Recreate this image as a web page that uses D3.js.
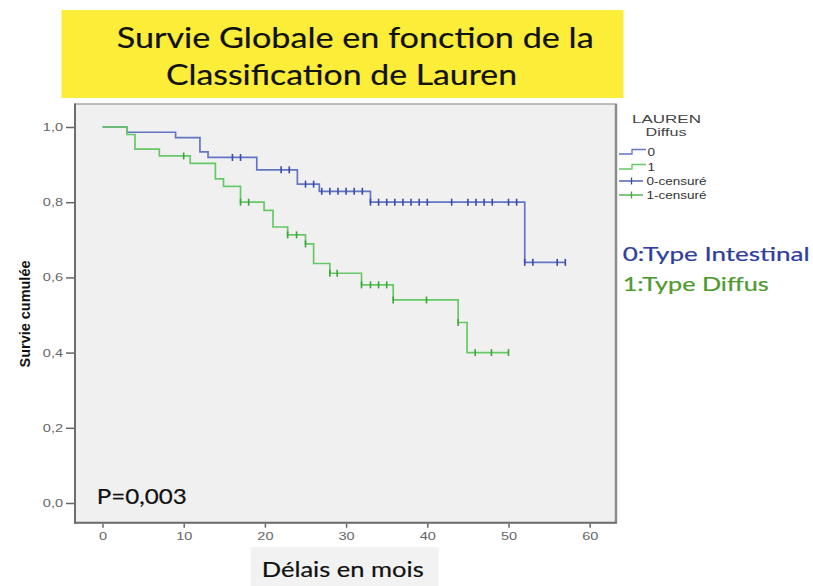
<!DOCTYPE html>
<html>
<head>
<meta charset="utf-8">
<script src="https://cdn.jsdelivr.net/npm/d3@7"></script>
<style>
  html, body { margin: 0; padding: 0; background: #fff; }
  svg { display: block; }
</style>
</head>
<body>
<svg id="chart" width="813" height="586"></svg>
<script>
// Kaplan–Meier survival by Lauren classification
const titleLines = ["Survie Globale en fonction de la", "Classification de Lauren"];

// Group 0 : type intestinal — event times (months) and survival after each event
const intTimes = [3, 9, 12, 13, 19, 24, 26.7, 33, 52];
const intSurv  = [0.986, 0.972, 0.934, 0.919, 0.886, 0.848, 0.829, 0.800, 0.640];
const intCensored = [16, 17, 22, 23, 25, 26, 27, 28, 29, 30, 31, 32, 33, 34, 35, 36, 37, 38, 39, 40,
                     43, 45, 46, 47, 48, 50, 51, 52, 53, 56, 57];

// Group 1 : type diffus
const difTimes = [3, 4, 7, 10.8, 13.9, 14.9, 17, 19.9, 21, 22.8, 25, 26, 28, 31.9, 35.8, 43.8, 44.9];
const difSurv  = [0.980, 0.941, 0.923, 0.903, 0.862, 0.842, 0.800, 0.778, 0.734, 0.713, 0.689, 0.637,
                  0.611, 0.580, 0.540, 0.480, 0.400];
const difCensored = [10, 17, 18, 22.8, 23.9, 25, 28, 28.9, 31.9, 33, 34, 35, 35.8, 39.9, 43.8, 45.9, 47.9, 50];

const xTicks = [0, 10, 20, 30, 40, 50, 60];
const yTicks = [0, 0.2, 0.4, 0.6, 0.8, 1.0];
const legendTitle = ["LAUREN", "Diffus"];
const legendItems = ["0", "1", "0-censuré", "1-censuré"];
const groupNotes = ["0:Type Intestinal", "1:Type Diffus"];
const pValueText = "P=0,003";
const xTitle = "Délais en mois";
const yTitle = "Survie cumulée";

const svg = d3.select("#chart");
const SANS = "'Liberation Sans', Arial, sans-serif";
const HUM = "Lato, 'Open Sans', sans-serif";

function stretch(sel, factor) {
  sel.each(function () {
    const w = this.getComputedTextLength();
    d3.select(this).attr("textLength", w * factor).attr("lengthAdjust", "spacingAndGlyphs");
  });
}
function fitTo(sel, width) {
  sel.attr("textLength", width).attr("lengthAdjust", "spacingAndGlyphs");
}
// slightly heavier strokes for the large captions
function heavy(sel, color) {
  sel.attr("stroke", color).attr("stroke-width", 0.2);
}

// ---- title banner
svg.append("rect").attr("x", 61.5).attr("y", 10).attr("width", 562).attr("height", 88)
  .attr("fill", "#fcee38");
const tl1 = svg.append("text").attr("x", 116.7).attr("y", 47.7)
  .attr("font-family", HUM).attr("font-size", 29).attr("fill", "#111").text(titleLines[0]);
fitTo(tl1, 477); heavy(tl1, "#111");
const tl2 = svg.append("text").attr("x", 166).attr("y", 85)
  .attr("font-family", HUM).attr("font-size", 29).attr("fill", "#111").text(titleLines[1]);
fitTo(tl2, 351); heavy(tl2, "#111");

// ---- plot frame
const plotLeft = 75, plotRight = 616, plotTop = 104, plotBottom = 522.7;
const x = d3.scaleLinear().domain([0, 60]).range([102.5, 589.7]);
const y = d3.scaleLinear().domain([0, 1]).range([503, 127]);

svg.append("rect").attr("x", plotLeft).attr("y", plotTop)
  .attr("width", plotRight - plotLeft).attr("height", plotBottom - plotTop)
  .attr("fill", "#f0f0f0").attr("stroke", "#a8a8a8").attr("stroke-width", 1.5);
svg.append("line").attr("x1", plotRight).attr("x2", plotRight).attr("y1", plotTop).attr("y2", plotBottom)
  .attr("stroke", "#8c8c8c").attr("stroke-width", 2.5);
svg.append("line").attr("x1", plotLeft).attr("x2", plotLeft).attr("y1", plotTop - 0.5).attr("y2", plotBottom + 1)
  .attr("stroke", "#6e6e6e").attr("stroke-width", 2);
svg.append("line").attr("x1", plotLeft - 1).attr("x2", plotRight + 1).attr("y1", plotBottom).attr("y2", plotBottom)
  .attr("stroke", "#6e6e6e").attr("stroke-width", 2);

// ---- axes
const yAxis = svg.append("g").attr("transform", `translate(${plotLeft - 1},0)`)
  .call(d3.axisLeft(y).tickValues(yTicks).tickSize(8).tickPadding(3)
    .tickFormat(d => d.toFixed(1).replace(".", ",")));
yAxis.select(".domain").remove();
yAxis.selectAll(".tick line").attr("stroke", "#666").attr("stroke-width", 1.5);
yAxis.selectAll(".tick text").attr("font-family", SANS).attr("font-size", 10)
  .attr("fill", "#666").attr("dy", "0.34em").call(stretch, 1.45);

const xAxis = svg.append("g").attr("transform", `translate(0,${plotBottom + 1})`)
  .call(d3.axisBottom(x).tickValues(xTicks).tickSize(4).tickPadding(5).tickFormat(d3.format("d")));
xAxis.select(".domain").remove();
xAxis.selectAll(".tick line").attr("stroke", "#666").attr("stroke-width", 1.5);
xAxis.selectAll(".tick text").attr("font-family", SANS).attr("font-size", 10)
  .attr("fill", "#666").call(stretch, 1.45);

// y title
const yt = svg.append("text").attr("transform", "translate(30,314) rotate(-90)")
  .attr("text-anchor", "middle").attr("font-family", "'Liberation Sans Narrow', " + SANS)
  .attr("font-weight", "bold").attr("font-size", 15).attr("fill", "#111").text(yTitle);
fitTo(yt, 107);

// x title with its light box
svg.append("rect").attr("x", 250.7).attr("y", 547).attr("width", 188).attr("height", 39).attr("fill", "#f2f2f2");
const xt = svg.append("text").attr("x", 261.7).attr("y", 576.7)
  .attr("font-family", HUM).attr("font-size", 22).attr("fill", "#111").text(xTitle);
fitTo(xt, 162); heavy(xt, "#111");

// ---- survival curves
const groups = [
  { times: intTimes, surv: intSurv, cens: intCensored, line: "#6474c4", mark: "#3a4aa6" },
  { times: difTimes, surv: difSurv, cens: difCensored, line: "#66c866", mark: "#3aa63a" }
];
function survAt(g, t) {
  let s = 1;
  g.times.forEach((tt, i) => { if (tt <= t) s = g.surv[i]; });
  return s;
}
const step = d3.line().x(d => x(d[0])).y(d => y(d[1])).curve(d3.curveStepAfter);

groups.forEach(g => {
  const end = d3.max(g.cens.concat(g.times));
  const pts = [[0, 1]].concat(g.times.map((t, i) => [t, g.surv[i]]), [[end, g.surv[g.surv.length - 1]]]);
  svg.append("path").datum(pts).attr("d", step).attr("fill", "none")
    .attr("stroke", g.line).attr("stroke-width", 1.7);
});
groups.forEach(g => {
  svg.append("g").selectAll("line").data(g.cens).join("line")
    .attr("x1", d => x(d)).attr("x2", d => x(d))
    .attr("y1", d => y(survAt(g, d)) - 3.5).attr("y2", d => y(survAt(g, d)) + 3.5)
    .attr("stroke", g.mark).attr("stroke-width", 1.6);
});

// p value
const pv = svg.append("text").attr("x", 96.7).attr("y", 504.3)
  .attr("font-family", HUM).attr("font-size", 22).attr("fill", "#111").text(pValueText);
fitTo(pv, 90); heavy(pv, "#111");

// ---- legend
const lg1 = svg.append("text").attr("x", 666.5).attr("y", 122.7).attr("text-anchor", "middle")
  .attr("font-family", SANS).attr("font-size", 10.5).attr("fill", "#444").text(legendTitle[0]);
fitTo(lg1, 69);
const lg2 = svg.append("text").attr("x", 666).attr("y", 136).attr("text-anchor", "middle")
  .attr("font-family", SANS).attr("font-size", 10.5).attr("fill", "#444").text(legendTitle[1]);
fitTo(lg2, 41);

const legendRows = [
  { y: 154, kind: "step", color: groups[0].line },
  { y: 169, kind: "step", color: groups[1].line },
  { y: 181, kind: "cens", color: groups[0].mark },
  { y: 195, kind: "cens", color: groups[1].mark }
];
legendRows.forEach((r, i) => {
  if (r.kind === "step") {
    svg.append("path").attr("d", `M619,${r.y}H632V${r.y - 4.5}H646`).attr("fill", "none")
      .attr("stroke", r.color).attr("stroke-width", 1.3);
  } else {
    svg.append("line").attr("x1", 619).attr("x2", 643).attr("y1", r.y).attr("y2", r.y)
      .attr("stroke", r.color).attr("stroke-width", 1.3);
    svg.append("line").attr("x1", 631.5).attr("x2", 631.5).attr("y1", r.y - 3.5).attr("y2", r.y + 3.5)
      .attr("stroke", r.color).attr("stroke-width", 1.3);
  }
  const t = svg.append("text").attr("x", i < 2 ? 647.5 : 646.5).attr("y", r.y + (i < 2 ? 2 : 3.5))
    .attr("font-family", SANS).attr("font-size", 10).attr("fill", "#333").text(legendItems[i]);
  t.call(stretch, 1.35);
});

// group notes
const noteColors = ["#2f3d9c", "#4e9a2c"];
const noteWidths = [187, 146];
groupNotes.forEach((s, i) => {
  const t = svg.append("text").attr("x", 622.7).attr("y", 260.5 + i * 30)
    .attr("font-family", HUM).attr("font-size", 19).attr("fill", noteColors[i]).text(s);
  fitTo(t, noteWidths[i]); heavy(t, noteColors[i]);
});
</script>
</body>
</html>
